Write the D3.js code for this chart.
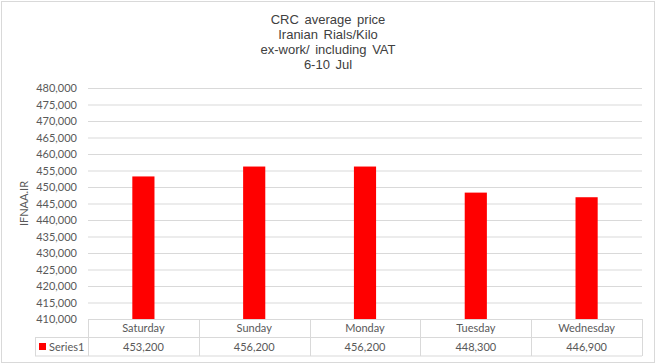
<!DOCTYPE html>
<html><head><meta charset="utf-8">
<script src="https://cdn.jsdelivr.net/npm/d3@7"></script>
<style>body{margin:0;background:#fff}svg{display:block}</style>
</head><body>
<svg id="c" width="657" height="364"></svg>
<script>
const categories = ["Saturday","Sunday","Monday","Tuesday","Wednesday"];
const values = [453200, 456200, 456200, 448300, 446900];
const seriesName = "Series1";
const titleLines = ["CRC average price","Iranian Rials/Kilo","ex-work/ including VAT","6-10 Jul"];
const yTicks = [410000,415000,420000,425000,430000,435000,440000,445000,450000,455000,460000,465000,470000,475000,480000];
const yLabel = "IFNAA.IR";

(function(){
const svg = d3.select("#c");
const W = 657, H = 364;
const pL = 88, pR = 642, pT = 88, pB = 319;
const grid = "#d9d9d9";
const fmt = d3.format(",");

svg.append("rect").attr("x",1.5).attr("y",1.5).attr("width",W-4).attr("height",H-3)
  .attr("fill","#fff").attr("stroke","#d9d9d9");

const title = svg.append("text").attr("text-anchor","middle")
  .attr("font-family","Liberation Sans, Arial, sans-serif").attr("font-size",13)
  .attr("word-spacing",2).attr("fill","#404040");
titleLines.forEach((t,i)=>title.append("tspan").attr("x",328).attr("y",24+i*15).text(t));

const x = d3.scaleBand().domain(categories).range([pL,pR]).padding(0);
const y = d3.scaleLinear().domain([410000,480000]).range([pB,pT]);

const yAxis = d3.axisLeft(y).tickValues(yTicks).tickFormat(fmt).tickSize(-(pR-pL)).tickPadding(11);
const ga = svg.append("g").attr("transform",`translate(${pL},0)`).call(yAxis);
ga.select(".domain").remove();
ga.selectAll(".tick line").attr("stroke",grid).attr("stroke-width",1);
ga.selectAll(".tick text").attr("font-family","Lato, Calibri, sans-serif").attr("font-size",11).attr("fill","#595959");

const bw = x.bandwidth()*0.2;
svg.append("g").selectAll("rect").data(values).join("rect")
  .attr("x",(d,i)=>x(categories[i])+x.bandwidth()/2-bw/2)
  .attr("width",bw)
  .attr("y",d=>y(d))
  .attr("height",d=>y(410000)-y(d))
  .attr("fill","#ff0000");

svg.append("text").attr("transform",`translate(28,${(pT+pB)/2}) rotate(-90)`)
  .attr("text-anchor","middle").attr("font-family","Lato, Calibri, sans-serif").attr("font-size",11)
  .attr("fill","#595959").text(yLabel);

// data table
const r0 = 319, r1 = 337.5, r2 = 356, tl = 35;
const tg = svg.append("g").attr("stroke",grid).attr("stroke-width",1).attr("fill","none");
tg.append("line").attr("x1",pL).attr("x2",pR).attr("y1",r0+0.5).attr("y2",r0+0.5);
tg.append("line").attr("x1",tl).attr("x2",pR).attr("y1",r1).attr("y2",r1);
tg.append("line").attr("x1",tl).attr("x2",pR).attr("y1",r2).attr("y2",r2);
tg.append("line").attr("x1",tl+0.5).attr("x2",tl+0.5).attr("y1",r1).attr("y2",r2);
categories.forEach(c=>{
  tg.append("line").attr("x1",Math.round(x(c))+0.5).attr("x2",Math.round(x(c))+0.5).attr("y1",r0).attr("y2",r2);
});
tg.append("line").attr("x1",pR+0.5).attr("x2",pR+0.5).attr("y1",r0).attr("y2",r2);

const tt = svg.append("g").attr("font-family","Lato, Calibri, sans-serif").attr("font-size",11)
  .attr("fill","#595959").attr("text-anchor","middle");
categories.forEach((c,i)=>{
  tt.append("text").attr("x",x(c)+x.bandwidth()/2).attr("y",332).text(c);
  tt.append("text").attr("x",x(c)+x.bandwidth()/2).attr("y",351).text(fmt(values[i]));
});
svg.append("rect").attr("x",39).attr("y",343).attr("width",7).attr("height",7).attr("fill","#ff0000");
svg.append("text").attr("x",49).attr("y",351).attr("font-family","Lato, Calibri, sans-serif")
  .attr("font-size",11).attr("fill","#595959").text(seriesName);
})();
</script>
</body></html>
